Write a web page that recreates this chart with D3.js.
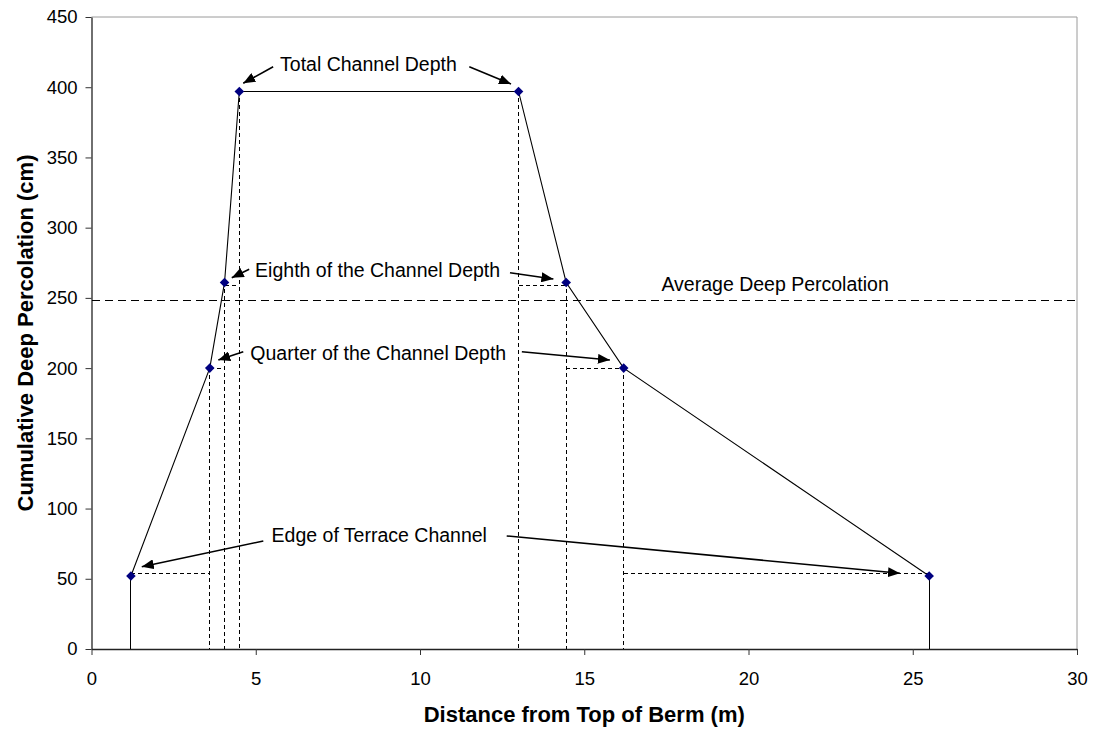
<!DOCTYPE html>
<html>
<head>
<meta charset="utf-8">
<script src="https://cdn.jsdelivr.net/npm/d3@7"></script>
<style>
  body { margin:0; background:#fff; }
  text { font-family: "Liberation Sans", Arial, sans-serif; fill:#000; }
</style>
</head>
<body>
<div id="chart"></div>
<script>
//=====================data=========================
const distance = [1.2, 3.6, 4.05, 4.5, 13.0, 14.45, 16.2, 25.5];
const percolation = [52, 200, 261, 397, 397, 261, 200, 52];

// dashed guides (horizontal pieces between the drop lines)
const guideFrom = [1.2, 3.6, 4.05, 13.0, 14.45, 16.2];
const guideTo   = [3.6, 4.05, 4.5, 14.45, 16.2, 25.5];
const guideY    = [54, 200, 259, 259, 200, 54];

const averagePerc = 248;

const xTicks = [0, 5, 10, 15, 20, 25, 30];
const yTicks = [0, 50, 100, 150, 200, 250, 300, 350, 400, 450];

// annotation labels [text, x, y] in data units
const labelText = ['Total Channel Depth', 'Eighth of the Channel Depth', 'Quarter of the Channel Depth', 'Edge of Terrace Channel', 'Average Deep Percolation'];
const labelX = [8.43, 8.71, 8.73, 8.76, 20.81];
const labelY = [411.8, 265.1, 205.8, 76, 254.9];

// arrows: start x,y -> tip x,y (data units)
const arrowX1 = [5.53, 11.50, 4.80, 12.74, 4.62, 13.10, 5.23, 12.64];
const arrowY1 = [414.6, 414.6, 270.4, 267.9, 211.7, 211.7, 76.9, 80.5];
const arrowX2 = [4.62, 12.77, 4.27, 14.06, 3.86, 15.78, 1.53, 24.61];
const arrowY2 = [402.8, 402.3, 264.4, 263.5, 205.8, 205.8, 58.6, 53.9];

//=====================plot size=========================
var W = 1096, H = 731;
var plot = {left:91.5, right:1077, top:17, bottom:649};

var svg = d3.select('#chart').append('svg')
  .attr('width', W).attr('height', H);

var x = d3.scaleLinear().domain([0,30]).range([plot.left, plot.right]);
var y = d3.scaleLinear().domain([0,450]).range([plot.bottom, plot.top]);

svg.append('defs').append('marker')
  .attr('id','arrow')
  .attr('markerUnits','userSpaceOnUse')
  .attr('markerWidth',13).attr('markerHeight',10)
  .attr('refX',12).attr('refY',5)
  .attr('orient','auto')
  .append('path').attr('d','M0,0 L12,5 L0,10 Z').attr('fill','#000');

//==============frame (top/right)==============
svg.append('line').attr('x1',plot.left).attr('x2',plot.right)
  .attr('y1',plot.top).attr('y2',plot.top)
  .attr('stroke','#9a9a9a').attr('stroke-width',1);
svg.append('line').attr('x1',plot.right).attr('x2',plot.right)
  .attr('y1',plot.top).attr('y2',plot.bottom)
  .attr('stroke','#9a9a9a').attr('stroke-width',1);

//==============axes==============
var xAxis = svg.append('g')
  .attr('transform','translate(0,'+plot.bottom+')')
  .call(d3.axisBottom(x).tickValues(xTicks).tickSize(6).tickSizeOuter(0).tickPadding(12));
var yAxis = svg.append('g')
  .attr('transform','translate('+plot.left+',0)')
  .call(d3.axisLeft(y).tickValues(yTicks).tickSize(6).tickSizeOuter(0).tickPadding(8));
[xAxis, yAxis].forEach(function(a){
  a.select('.domain').attr('stroke','#222').attr('stroke-width',1.3);
  a.selectAll('.tick line').attr('stroke','#333');
  a.selectAll('.tick text').style('font-size','18.5px').attr('fill','#000')
    .style('font-family','"Liberation Sans", Arial, sans-serif');
});
xAxis.selectAll('.tick text').attr('dy','0.95em');

svg.append('text')
  .attr('x',(plot.left+plot.right)/2).attr('y',722)
  .attr('text-anchor','middle')
  .style('font-size','22px').style('font-weight','bold')
  .text('Distance from Top of Berm (m)');
svg.append('text')
  .attr('transform','translate(33,'+((plot.top+plot.bottom)/2)+') rotate(-90)')
  .attr('text-anchor','middle')
  .style('font-size','22px').style('font-weight','bold')
  .text('Cumulative Deep Percolation (cm)');

//==============average line==============
svg.append('line')
  .attr('x1',x(0)).attr('x2',x(30))
  .attr('y1',y(averagePerc)).attr('y2',y(averagePerc))
  .attr('stroke','#000').attr('stroke-width',1)
  .attr('shape-rendering','crispEdges')
  .attr('stroke-dasharray','8,5');

//==============drop lines==============
var n = distance.length;
svg.selectAll('.drop')
  .data(distance.map(function(d,i){ return {x:d, y:percolation[i], edge:(i==0||i==n-1)}; }))
  .enter().append('line')
  .attr('class','drop')
  .attr('x1',function(d){return x(d.x);}).attr('x2',function(d){return x(d.x);})
  .attr('y1',function(d){return y(d.y);}).attr('y2',y(0))
  .attr('stroke','#000').attr('stroke-width',1)
  .attr('shape-rendering','crispEdges')
  .attr('stroke-dasharray',function(d){ return d.edge ? null : '4,3'; });

svg.selectAll('.guide')
  .data(guideY)
  .enter().append('line')
  .attr('class','guide')
  .attr('x1',function(d,i){return x(guideFrom[i]);})
  .attr('x2',function(d,i){return x(guideTo[i]);})
  .attr('y1',function(d){return y(d);}).attr('y2',function(d){return y(d);})
  .attr('stroke','#000').attr('stroke-width',1)
  .attr('shape-rendering','crispEdges')
  .attr('stroke-dasharray','4,3');

//==============main series==============
var pts = distance.map(function(d,i){ return [x(d), y(percolation[i])]; });
svg.append('path')
  .attr('d', d3.line()(pts))
  .attr('fill','none').attr('stroke','#000').attr('stroke-width',1.1);

svg.selectAll('.pt')
  .data(pts).enter().append('path')
  .attr('class','pt')
  .attr('transform',function(d){ return 'translate('+d[0]+','+d[1]+')'; })
  .attr('d','M0,-4.8 L4.8,0 L0,4.8 L-4.8,0 Z')
  .attr('fill','#000080');

//==============annotations==============
svg.selectAll('.lbl')
  .data(labelText).enter().append('text')
  .attr('class','lbl')
  .attr('x',function(d,i){return x(labelX[i]);})
  .attr('y',function(d,i){return y(labelY[i]);})
  .attr('text-anchor','middle')
  .style('font-size','19.5px')
  .text(function(d){return d;});

svg.selectAll('.arr')
  .data(arrowX1).enter().append('line')
  .attr('class','arr')
  .attr('x1',function(d){return x(d);})
  .attr('y1',function(d,i){return y(arrowY1[i]);})
  .attr('x2',function(d,i){return x(arrowX2[i]);})
  .attr('y2',function(d,i){return y(arrowY2[i]);})
  .attr('stroke','#000').attr('stroke-width',1.6)
  .attr('marker-end','url(#arrow)');
</script>
</body>
</html>
